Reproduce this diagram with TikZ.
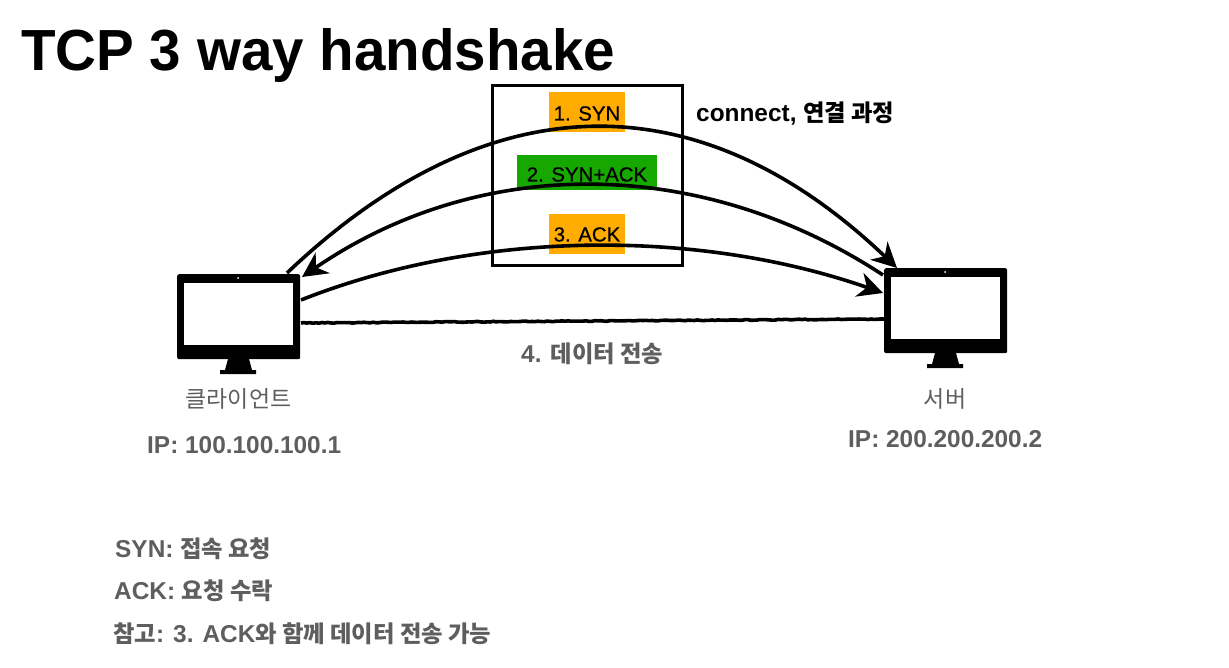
\documentclass[tikz,border=0pt]{standalone}
\usepackage{fontspec}
\setmainfont{Liberation Sans}
\newfontfamily\kr[Scale=0.955]{Noto Sans CJK KR}
\newfontfamily\titlefont[FakeStretch=0.975,BoldFont={Liberation Sans Bold}]{Liberation Sans}
\newfontfamily\stepfont[FakeBold=0.6]{Liberation Sans}
\usetikzlibrary{arrows.meta,decorations.pathmorphing}
\definecolor{amberbox}{HTML}{FFAB00}
\definecolor{greenbox}{HTML}{17A800}
\definecolor{greytext}{HTML}{5E5E5E}
\newcommand{\K}[1]{{\kr #1}}
\tikzset{
  x=1pt,y=-1pt,
  title/.style={font=\titlefont\bfseries\fontsize{58}{60}\selectfont,anchor=base west,inner sep=0,text=black},
  steplabel/.style={font=\stepfont\fontsize{20.4}{22}\selectfont,text=black,inner sep=0,text height=15pt,text depth=0pt},
  boldlabel/.style={font=\bfseries\fontsize{24.4}{26}\selectfont,inner sep=0,anchor=west},
  graylabel/.style={boldlabel,text=greytext},
  thinlabel/.style={font=\fontsize{24}{26}\selectfont,inner sep=0,text=greytext},
  bodyshape/.style={fill=black,rounded corners=2pt,inner sep=0,minimum width=123pt,minimum height=85pt},
  screenshape/.style={fill=white,inner sep=0,minimum width=109pt,minimum height=62pt},
  hand/.style={line width=3.6pt,black},
  roughhand/.style={hand,decorate,decoration={random steps,segment length=3pt,amplitude=.4pt}},
  handarrow/.style={hand,-{Stealth[length=25pt,width=25pt,inset=8pt]}},
}
\newcommand{\monitor}[3]{% name, x, y (top-left)
  \node[bodyshape,anchor=north west] (#1) at (#2,#3) {};
  \node[screenshape,anchor=north west] (#1screen) at (#2+7,#3+8.5) {};
  \fill[white] (#2+61,#3+4) circle (1pt);
  \fill[black] (#2+51,#3+85) -- (#2+72,#3+85) -- (#2+75,#3+96) -- (#2+79,#3+96) -- (#2+79,#3+100) -- (#2+43,#3+100) -- (#2+43,#3+96) -- (#2+48,#3+96) -- cycle;
}
\begin{document}
\begin{tikzpicture}
\useasboundingbox (0,0) rectangle (1229,668);
\fill[white] (0,0) rectangle (1229,668);
\node[title] (ttl) at (21,71) {TCP 3 way handshake};

\fill[amberbox] (549,92) rectangle (625,132);
\fill[greenbox] (517,155) rectangle (657,190);
\fill[amberbox] (549,214) rectangle (625,254);
\node[steplabel] (syn) at (587,113) {1. SYN};
\node[steplabel] (synack) at (587,174) {2. SYN+ACK};
\node[steplabel] (ack) at (587,234) {3. ACK};
\node[draw=black,line width=2.6pt,inner sep=0,minimum width=190pt,minimum height=180pt] (frame) at (587.5,175.5) {};

\node[boldlabel] (conn) at (696,114) {connect, \K{연결 과정}};

\monitor{client}{177}{274}
\monitor{server}{884}{268}

\coordinate (c1) at (287,273);
\coordinate (s1) at (897,268);
\coordinate (s2) at (883,275);
\coordinate (c2) at (302,277);
\coordinate (c3) at (301,300);
\coordinate (s3) at (883,293);
\coordinate (c4) at (301,323);
\coordinate (s4) at (884,319);

\draw[handarrow] (c1) .. controls (490,80) and (700,80) .. (s1);
\draw[handarrow] (s2) .. controls (700,155) and (480,155) .. (c2);
\draw[handarrow] (c3) .. controls (480,229) and (700,229) .. (s3);
\draw[roughhand] (c4) -- (s4);

\node[graylabel] (data) at (521,354) {4. \K{데이터 전송}};
\node[thinlabel] (cl) at (238.5,398.5) {\K{클라이언트}};
\node[thinlabel] (sv) at (945,398.5) {\K{서버}};
\node[graylabel] (ipc) at (147,445.5) {IP: 100.100.100.1};
\node[graylabel] (ips) at (848,439.5) {IP: 200.200.200.2};
\node[graylabel] (n1) at (115,548.5) {SYN: \K{접속 요청}};
\node[graylabel] (n2) at (114,590.5) {ACK: \K{요청 수락}};
\node[graylabel] (n3) at (113,633.5) {\K{참고}: 3. ACK\K{와 함께 데이터 전송 가능}};
\end{tikzpicture}
\end{document}
